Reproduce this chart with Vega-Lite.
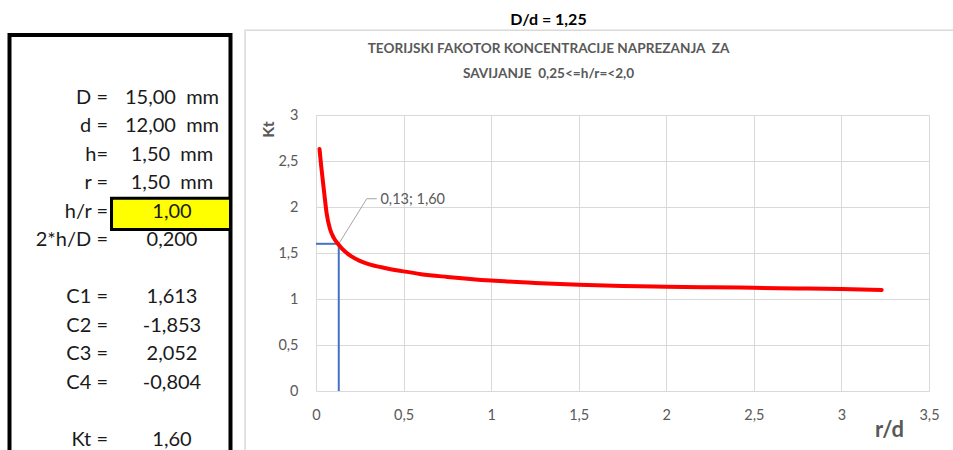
{
  "$schema": "https://vega.github.io/schema/vega-lite/v6.json",
  "width": 613,
  "height": 276,
  "autosize": {"type": "none"},
  "padding": {"left": 316, "top": 115, "right": 24, "bottom": 59},
  "background": "white",
  "config": {"view": {"stroke": null}, "font": "Lato"},
  "title": {
    "text": "D/d = 1,25",
    "subtitle": ["TEORIJSKI FAKOTOR KONCENTRACIJE NAPREZANJA\u00a0 ZA", "SAVIJANJE\u00a0 0,25<=h/r=<2,0"],
    "anchor": "middle",
    "dx": -74,
    "font": "Lato",
    "fontSize": 16,
    "fontWeight": "bold",
    "color": "#000000",
    "subtitleFont": "Lato",
    "subtitleFontSize": 13.6,
    "subtitleFontWeight": "bold",
    "subtitleColor": "#595959",
    "subtitleLineHeight": 25,
    "subtitlePadding": 14,
    "offset": -51
  },
  "datasets": {
    "curve": [
      {"rd": 0.02, "kt": 2.63},
      {"rd": 0.03, "kt": 2.44},
      {"rd": 0.04, "kt": 2.27},
      {"rd": 0.05, "kt": 2.1},
      {"rd": 0.06, "kt": 1.94},
      {"rd": 0.08, "kt": 1.76},
      {"rd": 0.1, "kt": 1.67},
      {"rd": 0.125, "kt": 1.6},
      {"rd": 0.15, "kt": 1.545},
      {"rd": 0.2, "kt": 1.465},
      {"rd": 0.25, "kt": 1.415},
      {"rd": 0.3, "kt": 1.38},
      {"rd": 0.4, "kt": 1.335},
      {"rd": 0.5, "kt": 1.3},
      {"rd": 0.6, "kt": 1.27},
      {"rd": 0.75, "kt": 1.24},
      {"rd": 1.0, "kt": 1.2},
      {"rd": 1.25, "kt": 1.175},
      {"rd": 1.5, "kt": 1.155},
      {"rd": 1.75, "kt": 1.142},
      {"rd": 2.0, "kt": 1.133},
      {"rd": 2.25, "kt": 1.127},
      {"rd": 2.5, "kt": 1.122},
      {"rd": 2.75, "kt": 1.115},
      {"rd": 3.0, "kt": 1.108},
      {"rd": 3.23, "kt": 1.098}
    ],
    "guides": [
      {"x": 0, "x2": 0.13, "y": 1.6, "y2": 1.6},
      {"x": 0.13, "x2": 0.13, "y": 0, "y2": 1.6}
    ],
    "leader": [
      {"lx": 0.13, "ly": 1.6, "o": 0},
      {"lx": 0.29, "ly": 2.09, "o": 1},
      {"lx": 0.347, "ly": 2.09, "o": 2}
    ],
    "point": [{"lx": 0.368, "ly": 2.075, "txt": "0,13; 1,60"}],
    "panel": [
      {"row": 0, "label": "D =", "value": "15,00\u00a0 mm"},
      {"row": 1, "label": "d =", "value": "12,00\u00a0 mm"},
      {"row": 2, "label": "h=", "value": "1,50\u00a0 mm"},
      {"row": 3, "label": "r =", "value": "1,50\u00a0 mm"},
      {"row": 4, "label": "h/r =", "value": "1,00"},
      {"row": 5, "label": "2*h/D =", "value": "0,200"},
      {"row": 7, "label": "C1 =", "value": "1,613"},
      {"row": 8, "label": "C2 =", "value": "-1,853"},
      {"row": 9, "label": "C3 =", "value": "2,052"},
      {"row": 10, "label": "C4 =", "value": "-0,804"},
      {"row": 12, "label": "Kt =", "value": "1,60"}
    ]
  },
  "layer": [
    {
      "layer": [
        {
          "data": {"values": [{}]},
          "mark": {"type": "rect", "filled": false, "stroke": "#d9d9d9", "strokeWidth": 1.5},
          "encoding": {
            "x": {"datum": -0.405, "type": "quantitative", "scale": {"domain": [0, 3.5], "nice": false, "zero": false}},
            "x2": {"datum": 3.75},
            "y": {"datum": 3.922, "type": "quantitative", "scale": {"domain": [0, 3], "nice": false, "zero": false}},
            "y2": {"datum": -0.8}
          }
        },
        {
          "data": {"name": "guides"},
          "mark": {"type": "rule", "color": "#4472C4", "strokeWidth": 2},
          "encoding": {
            "x": {
              "field": "x", "type": "quantitative",
              "scale": {"domain": [0, 3.5], "nice": false, "zero": false},
              "axis": {
                "values": [0, 0.5, 1, 1.5, 2, 2.5, 3, 3.5],
                "labelExpr": "replace(format(datum.value, '~g'), '.', ',')",
                "grid": true, "gridColor": "#d9d9d9", "gridWidth": 1,
                "domain": false, "ticks": false,
                "labelPadding": 17, "labelFlush": false, "labelOverlap": false,
                "labelFont": "Lato", "labelFontSize": 14.5, "labelColor": "#595959",
                "title": "r/d", "titleFont": "Lato", "titleFontSize": 22, "titleFontWeight": "bold",
                "titleColor": "#595959", "titleX": 573, "titleY": 38,
                "titleAlign": "center", "titleBaseline": "middle"
              }
            },
            "x2": {"field": "x2"},
            "y": {
              "field": "y", "type": "quantitative",
              "scale": {"domain": [0, 3], "nice": false, "zero": false},
              "axis": {
                "values": [0, 0.5, 1, 1.5, 2, 2.5, 3],
                "labelExpr": "replace(format(datum.value, '~g'), '.', ',')",
                "grid": true, "gridColor": "#d9d9d9", "gridWidth": 1,
                "domain": false, "ticks": false,
                "labelPadding": 18, "labelFlush": false, "labelOverlap": false,
                "labelFont": "Lato", "labelFontSize": 14.5, "labelColor": "#595959",
                "title": "Kt", "titleFont": "Lato", "titleFontSize": 16, "titleFontWeight": "bold",
                "titleColor": "#595959", "titleX": -48, "titleY": 14, "titleAngle": 270,
                "titleAlign": "center", "titleBaseline": "middle"
              }
            },
            "y2": {"field": "y2"}
          }
        },
        {
          "data": {"name": "leader"},
          "mark": {"type": "line", "color": "#a6a6a6", "strokeWidth": 1},
          "encoding": {
            "x": {"field": "lx", "type": "quantitative", "scale": {"domain": [0, 3.5], "nice": false, "zero": false}},
            "y": {"field": "ly", "type": "quantitative", "scale": {"domain": [0, 3], "nice": false, "zero": false}},
            "order": {"field": "o"}
          }
        },
        {
          "data": {"name": "point"},
          "mark": {"type": "text", "align": "left", "baseline": "middle", "font": "Lato", "fontSize": 14.5, "color": "#595959"},
          "encoding": {
            "x": {"field": "lx", "type": "quantitative", "scale": {"domain": [0, 3.5], "nice": false, "zero": false}},
            "y": {"field": "ly", "type": "quantitative", "scale": {"domain": [0, 3], "nice": false, "zero": false}},
            "text": {"field": "txt"}
          }
        },
        {
          "data": {"name": "curve"},
          "mark": {"type": "line", "color": "#ff0000", "strokeWidth": 4, "interpolate": "monotone", "strokeCap": "round"},
          "encoding": {
            "x": {"field": "rd", "type": "quantitative", "scale": {"domain": [0, 3.5], "nice": false, "zero": false}},
            "y": {"field": "kt", "type": "quantitative", "scale": {"domain": [0, 3], "nice": false, "zero": false}}
          }
        }
      ]
    },
    {
      "layer": [
        {
          "data": {"values": [{}]},
          "mark": {"type": "rect", "fill": "white", "stroke": "#000000", "strokeWidth": 4},
          "encoding": {
            "x": {"datum": -0.539, "type": "quantitative", "scale": {"domain": [4.25, 13.828], "nice": false, "zero": false}, "axis": null},
            "x2": {"datum": 2.914},
            "y": {"datum": -2.214, "type": "quantitative", "scale": {"domain": [0.5973, 10.295], "nice": false, "zero": false, "reverse": true}, "axis": null},
            "y2": {"datum": 13}
          }
        },
        {
          "data": {"values": [{}]},
          "mark": {"type": "rect", "fill": "#ffff00", "stroke": "#000000", "strokeWidth": 3},
          "encoding": {
            "x": {"datum": 1.055, "type": "quantitative", "scale": {"domain": [4.25, 13.828], "nice": false, "zero": false}, "axis": null},
            "x2": {"datum": 2.914},
            "y": {"datum": 3.52, "type": "quantitative", "scale": {"domain": [0.5973, 10.295], "nice": false, "zero": false, "reverse": true}, "axis": null},
            "y2": {"datum": 4.62}
          }
        },
        {
          "data": {"name": "panel"},
          "mark": {"type": "text", "align": "right", "baseline": "middle", "font": "Lato", "fontSize": 20, "color": "#1a1a1a"},
          "encoding": {
            "x": {"datum": 1, "type": "quantitative", "scale": {"domain": [4.25, 13.828], "nice": false, "zero": false}, "axis": null},
            "y": {"field": "row", "type": "quantitative", "scale": {"domain": [0.5973, 10.295], "nice": false, "zero": false, "reverse": true}, "axis": null},
            "text": {"field": "label"}
          }
        },
        {
          "data": {"name": "panel"},
          "mark": {"type": "text", "align": "center", "baseline": "middle", "font": "Lato", "fontSize": 20, "color": "#1a1a1a"},
          "encoding": {
            "x": {"datum": 2, "type": "quantitative", "scale": {"domain": [4.25, 13.828], "nice": false, "zero": false}, "axis": null},
            "y": {"field": "row", "type": "quantitative", "scale": {"domain": [0.5973, 10.295], "nice": false, "zero": false, "reverse": true}, "axis": null},
            "text": {"field": "value"}
          }
        }
      ]
    }
  ],
  "resolve": {"scale": {"x": "independent", "y": "independent"}}
}
